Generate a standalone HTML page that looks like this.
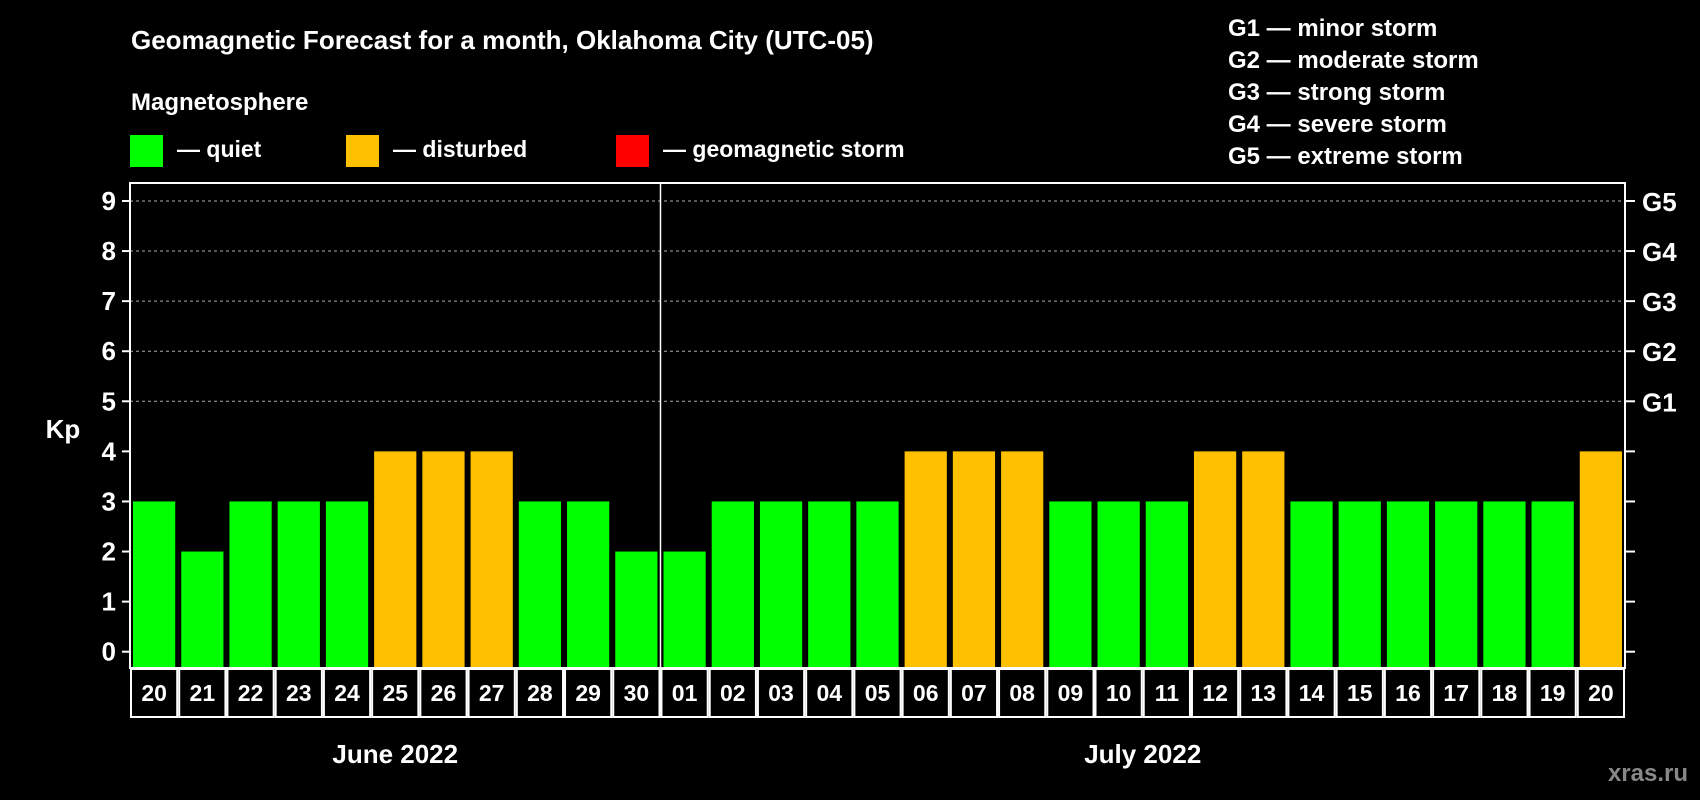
<!DOCTYPE html>
<html><head><meta charset="utf-8"><style>
html,body{margin:0;padding:0;background:#000;width:1700px;height:800px;overflow:hidden}
svg{display:block;font-family:"Liberation Sans",Arial,sans-serif;font-weight:bold}
</style></head><body>
<svg id="chart" width="1700" height="800" viewBox="0 0 1700 800">
<rect width="1700" height="800" fill="#000"/>
<text x="131" y="49" fill="#fff" font-size="26">Geomagnetic Forecast for a month, Oklahoma City (UTC-05)</text>
<text x="131" y="110" fill="#fff" font-size="24">Magnetosphere</text>
<g><rect x="130" y="135" width="33" height="32" fill="#00ff00"/><text x="177" y="157" fill="#fff" font-size="23">— quiet</text></g>
<g><rect x="346" y="135" width="33" height="32" fill="#ffc000"/><text x="393" y="157" fill="#fff" font-size="23">— disturbed</text></g>
<g><rect x="616" y="135" width="33" height="32" fill="#ff0000"/><text x="663" y="157" fill="#fff" font-size="23">— geomagnetic storm</text></g>
<g fill="#fff" font-size="24">
<text x="1228" y="36">G1 — minor storm</text>
<text x="1228" y="68">G2 — moderate storm</text>
<text x="1228" y="100">G3 — strong storm</text>
<text x="1228" y="132">G4 — severe storm</text>
<text x="1228" y="164">G5 — extreme storm</text>
</g>
<text x="63" y="438" fill="#fff" font-size="26" text-anchor="middle">Kp</text>
<g id="plot"></g>
<text x="1688" y="781" fill="#888" font-size="24" text-anchor="end">xras.ru</text>
</svg>
<script>
const days = ["20","21","22","23","24","25","26","27","28","29","30","01","02","03","04","05","06","07","08","09","10","11","12","13","14","15","16","17","18","19","20"];
const kp = [3,2,3,3,3,4,4,4,3,3,2,2,3,3,3,3,4,4,4,3,3,3,4,4,3,3,3,3,3,3,4];
const yTicks = [0,1,2,3,4,5,6,7,8,9];
const gLabels = ["G1","G2","G3","G4","G5"];
const gLevels = [5,6,7,8,9];
const months = ["June 2022","July 2022"];
const monthCounts = [11,20];

const NS="http://www.w3.org/2000/svg";
const L=130,R=1625,T=183,B=668;
const y=v=>651.7-v*50.08;
const step=(R-L)/days.length;
const x=i=>L+i*step;
const g=document.getElementById('plot');
function mk(t,a,p){const e=document.createElementNS(NS,t);for(const k in a)e.setAttribute(k,a[k]);(p||g).appendChild(e);return e;}
// grid
yTicks.forEach(v=>{ if(v>=5){const ln=mk('line',{x1:L,x2:R,y1:y(v),y2:y(v),stroke:'#aaa','stroke-width':1,'stroke-dasharray':'3,3'});

}});
// bars
kp.forEach((v,i)=>{const c=v>=5?'#ff0000':(v>=4?'#ffc000':'#00ff00');
const r=mk('rect',{x:x(i)+3,y:y(v),width:step-6,height:B-y(v),fill:c});

});
// frame
mk('rect',{x:L,y:T,width:R-L,height:B-T,fill:'none',stroke:'#fff','stroke-width':2});
let sep=x(monthCounts[0]);
const sl=mk('line',{x1:sep,x2:sep,y1:T,y2:B,stroke:'#fff','stroke-width':1.5});


// y ticks
yTicks.forEach(v=>{mk('line',{x1:L-8,x2:L,y1:y(v),y2:y(v),stroke:'#fff','stroke-width':2});
mk('line',{x1:R,x2:R+10,y1:y(v),y2:y(v),stroke:'#fff','stroke-width':2});
const t=mk('text',{x:L-14,y:y(v)+9,fill:'#fff','font-size':26,'text-anchor':'end'});t.textContent=v;

});
gLabels.forEach((s,i)=>{const t=mk('text',{x:R+17,y:y(gLevels[i])+10,fill:'#fff','font-size':26});t.textContent=s;

});
// date boxes
days.forEach((d,i)=>{mk('rect',{x:x(i)+1,y:669,width:step-2,height:48,fill:'#000',stroke:'#fff','stroke-width':2});
const t=mk('text',{x:x(i)+step/2,y:701,fill:'#fff','font-size':23,'text-anchor':'middle'});t.textContent=d;

});
// months
let start=0;months.forEach((m,i)=>{const cx=x(start)+monthCounts[i]*step/2;start+=monthCounts[i];
const t=mk('text',{x:cx,y:763,fill:'#fff','font-size':26,'text-anchor':'middle'});t.textContent=m;

});
</script>
</body></html>
